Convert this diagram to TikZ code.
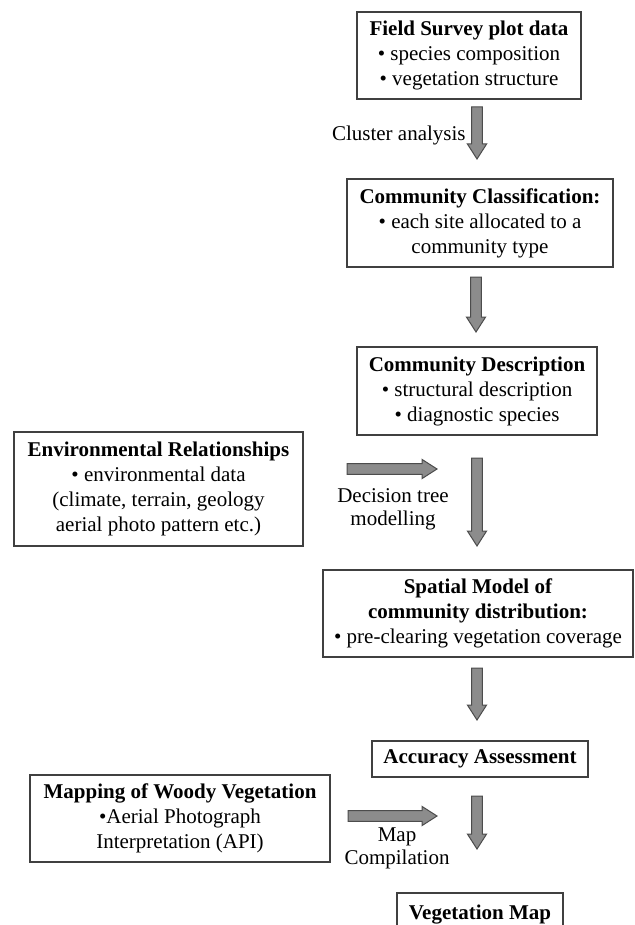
\documentclass[tikz,border=0pt]{standalone}
\usepackage{fontspec}
\setmainfont{Liberation Serif}
\usepackage{tikz}
\usetikzlibrary{calc}
\tikzstyle{box}=[draw=black!75,line width=0.7pt,align=center,
inner sep=0pt,font=\fontsize{10.5}{12.5}\selectfont]
\tikzstyle{lbl}=[align=center,inner sep=0pt,font=\fontsize{10.5}{11.5}\selectfont]
\tikzstyle{fat}=[fill=black!45,draw=black!70,line width=0.5pt,
to path={($(\tikztotarget)!7.5pt!(\tikztostart)$) coordinate (hb)
($(\tikztostart)!2.7pt!90:(\tikztotarget)$) -- ($(hb)!2.7pt!90:(\tikztotarget)$)
-- ($(hb)!4.8pt!90:(\tikztotarget)$) -- (\tikztotarget)
-- ($(hb)!4.8pt!-90:(\tikztotarget)$) -- ($(hb)!2.7pt!-90:(\tikztotarget)$)
-- ($(\tikztostart)!2.7pt!-90:(\tikztotarget)$) -- cycle}]

\begin{document}
\begin{tikzpicture}[x=0.5pt,y=-0.5pt]
	\useasboundingbox (0,0) rectangle (635,925);
	
	\node  (field)  at (469,55.5) [box,minimum width=112pt,minimum height=43.5pt]
	{\textbf{Field Survey plot data}\\• species composition\\• vegetation structure};
	\node  (class)  at (480,223) [box,minimum width=133pt,minimum height=44pt]
	{\textbf{Community Classification:}\\• each site allocated to a\\community type};
	\node  (descr)  at (477,391) [box,minimum width=120pt,minimum height=44pt]
	{\textbf{Community Description}\\• structural description\\• diagnostic species};
	\node  (env)    at (158.5,489) [box,minimum width=144.5pt,minimum height=57pt]
	{\textbf{Environmental Relationships}\\• environmental data\\(climate, terrain, geology\\aerial photo pattern etc.)};
	\node  (model)  at (478,613.5) [box,minimum width=155pt,minimum height=43.5pt]
	{\textbf{Spatial Model of}\\\textbf{community distribution:}\\• pre-clearing vegetation coverage};
	\node  (acc)    at (480,759) [box,minimum width=108pt,minimum height=18pt]
	{\textbf{Accuracy Assessment}};
	\node  (woody)  at (180,818.5) [box,minimum width=150pt,minimum height=43.5pt]
	{\textbf{Mapping of Woody Vegetation}\\•Aerial Photograph\\Interpretation (API)};
	\node  (vegmap) at (480,915) [box,minimum width=83pt,minimum height=22pt]
	{\textbf{Vegetation Map}};
	
	\node  (cluster)  at (466,135) [lbl,anchor=east] {Cluster analysis};
	\node  (dtree)    at (393,509.5) [lbl] {Decision tree\\modelling};
	\node  (mapcomp)  at (397,848.5) [lbl] {Map\\Compilation};
	
	\coordinate (a0) at (477,107);
	\coordinate (a1) at (477,159);
	\coordinate (a2) at (476,277);
	\coordinate (a3) at (476,332);
	\coordinate (a4) at (477,458);
	\coordinate (a5) at (477,546);
	\coordinate (a6) at (477,668);
	\coordinate (a7) at (477,720);
	\coordinate (a8) at (477,796);
	\coordinate (a9) at (477,849);
	\coordinate (h0) at (347,469);
	\coordinate (h1) at (437,469);
	\coordinate (h2) at (348,816);
	\coordinate (h3) at (437,816);
	
	\draw [fat] (a0) to (a1);
	\draw [fat] (a2) to (a3);
	\draw [fat] (a4) to (a5);
	\draw [fat] (a6) to (a7);
	\draw [fat] (a8) to (a9);
	\draw [fat] (h0) to (h1);
	\draw [fat] (h2) to (h3);
	
\end{tikzpicture}
\end{document}
